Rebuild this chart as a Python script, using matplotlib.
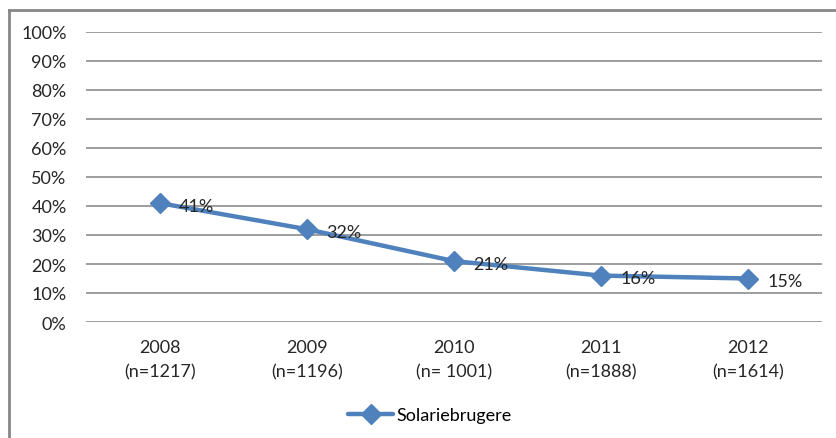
import matplotlib.pyplot as plt
from matplotlib.lines import Line2D
from matplotlib.ticker import FuncFormatter

plt.rcParams['font.family'] = ['Lato', 'DejaVu Sans']

years = ['2008', '2009', '2010', '2011', '2012']
sample_sizes = ['n=1217', 'n=1196', 'n= 1001', 'n=1888', 'n=1614']
solarie = [41, 32, 21, 16, 15]
series_name = 'Solariebrugere'

blue = '#4F81BD'
grid_gray = '#8C8C8C'
text_col = '#262626'
fs = 13

fig = plt.figure(figsize=(8.36, 4.39), dpi=100)
ax = fig.add_axes([86 / 836, 1 - 323 / 439, 736 / 836, 290 / 439])

x = list(range(len(years)))
ax.plot(x, solarie, '-', color=blue, lw=3.2, marker='D', ms=10.5,
        mec=blue, mfc=blue, label=series_name, solid_capstyle='round')

for xi, v in zip(x, solarie):
    ax.annotate(f'{v}%', (xi, v), xytext=(14, -2), textcoords='offset points',
                ha='left', va='center', fontsize=fs, color=text_col)

ax.set_xlim(-0.5, len(years) - 0.5)
ax.set_ylim(0, 100)
ax.set_yticks(range(0, 101, 10))
ax.yaxis.set_major_formatter(FuncFormatter(lambda v, p: f'{v:.0f}%'))
ax.set_xticks(x)
ax.set_xticklabels([f'{y}\n({n})' for y, n in zip(years, sample_sizes)],
                   linespacing=1.65)
ax.tick_params(axis='both', length=0, labelsize=fs, colors=text_col)
ax.tick_params(axis='y', pad=14)
ax.tick_params(axis='x', pad=12)
ax.grid(axis='y', color=grid_gray, lw=1.2)
ax.set_axisbelow(True)
for s in ax.spines.values():
    s.set_visible(False)

ax.legend(loc='center', bbox_to_anchor=(430 / 836, 1 - 416 / 439),
          bbox_transform=fig.transFigure, frameon=False, fontsize=fs,
          handlelength=2.5, handletextpad=0.2)

# chart border (left and top visible)
fig.add_artist(Line2D([8.5 / 836, 8.5 / 836], [0, 1 - 11 / 439],
                      transform=fig.transFigure, color='#878787', lw=2))
fig.add_artist(Line2D([8.5 / 836, 1], [1 - 11 / 439, 1 - 11 / 439],
                      transform=fig.transFigure, color='#878787', lw=2))

fig.savefig('out.png', dpi=100)
